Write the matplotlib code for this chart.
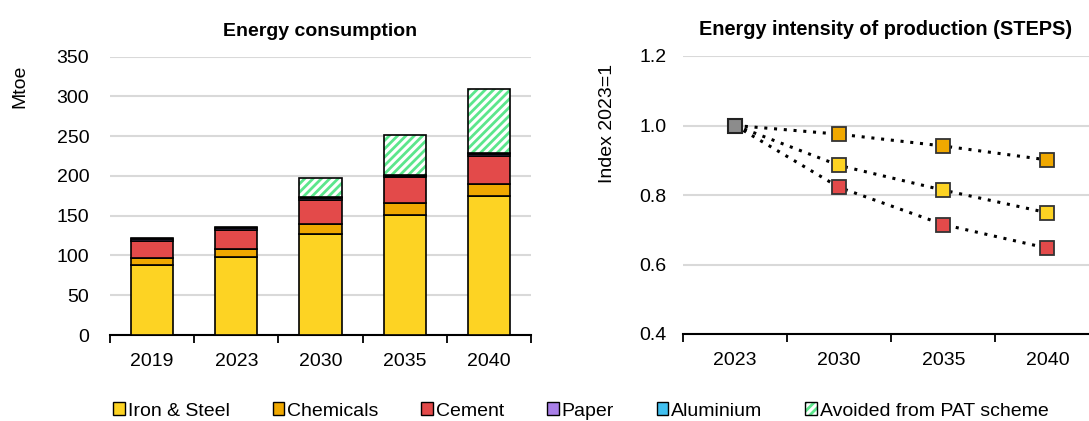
import matplotlib
matplotlib.use("Agg")
import matplotlib.pyplot as plt
import numpy as np
from matplotlib.patches import Patch
from matplotlib.legend_handler import HandlerTuple
from matplotlib.ticker import FixedLocator

plt.rcParams['font.family'] = ['Liberation Sans', 'DejaVu Sans']
plt.rcParams['hatch.linewidth'] = 2.0

# ---- Data ----
years_left = ['2019', '2023', '2030', '2035', '2040']
iron_steel = [88, 98, 126.5, 151, 175]
chemicals = [9, 10.5, 13, 14.5, 15]
cement = [21.5, 23.5, 30.5, 33, 35]
paper = [2.2, 2.0, 2.0, 1.8, 2.0]
aluminium = [1.8, 1.3, 1.3, 1.2, 1.2]
avoided = [0, 0, 24, 50, 80.5]

years_right = ['2023', '2030', '2035', '2040']
idx_chemicals = [1.0, 0.975, 0.941, 0.901]
idx_iron = [1.0, 0.885, 0.814, 0.749]
idx_cement = [1.0, 0.822, 0.715, 0.647]

c_iron = '#FDD323'
c_chem = '#F0A800'
c_cem = '#E34A4A'
c_paper = '#A97FE8'
c_alu = '#41C0F0'
c_avoid = '#5CE68C'
c_base = '#8C8C8C'
grid_c = '#D9D9D9'

FS = 14

fig = plt.figure(figsize=(10.89, 4.21), dpi=100)
W, H = 1089, 421

def ax_rect(x0, y0, x1, y1):
    return [x0 / W, 1 - y1 / H, (x1 - x0) / W, (y1 - y0) / H]

# ---- Left chart ----
ax1 = fig.add_axes(ax_rect(110, 56.5, 531, 335))
x = np.arange(len(years_left))
bw = 0.5
bottom = np.zeros(len(x))
for vals, col in [(iron_steel, c_iron), (chemicals, c_chem), (cement, c_cem),
                  (paper, c_paper), (aluminium, c_alu)]:
    ax1.bar(x, vals, bw, bottom=bottom, color=col, edgecolor='black', linewidth=1.2, zorder=3)
    bottom += np.array(vals)
av = np.array(avoided)
mask = av > 0
ax1.bar(x[mask], av[mask], bw, bottom=bottom[mask], color='white', edgecolor=c_avoid,
        hatch='////', linewidth=0, zorder=3)
ax1.bar(x[mask], av[mask], bw, bottom=bottom[mask], fill=False, edgecolor='black',
        linewidth=1.2, zorder=4)

ax1.set_xlim(-0.5, 4.5)
ax1.set_ylim(0, 350)
ax1.set_yticks(np.arange(0, 351, 50))
ax1.yaxis.grid(True, color=grid_c, linewidth=1.5, zorder=0)
ax1.set_axisbelow(True)
ax1.set_xticks(x)
ax1.set_xticklabels(years_left)
ax1.xaxis.set_minor_locator(FixedLocator(np.arange(-0.5, 4.6, 1)))
ax1.tick_params(axis='x', which='major', length=0, labelsize=FS, pad=13)
ax1.tick_params(axis='x', which='minor', length=6, width=1.3, direction='out')
ax1.tick_params(axis='y', length=0, labelsize=FS, pad=15)
for s in ['top', 'right', 'left']:
    ax1.spines[s].set_visible(False)
ax1.spines['bottom'].set_linewidth(1.5)
ax1.set_title('Energy consumption', fontsize=FS, fontweight='bold', pad=15)
fig.text(20 / W, 1 - 86 / H, 'Mtoe', rotation=90, ha='center', va='center', fontsize=FS)

# ---- Right chart ----
ax2 = fig.add_axes(ax_rect(683, 56, 1089, 334))
xr = np.arange(len(years_right))
for vals, col in [(idx_chemicals, c_chem), (idx_iron, c_iron), (idx_cement, c_cem)]:
    ax2.plot(xr, vals, linestyle=(0, (1, 2.2)), color='black', linewidth=2.2, zorder=3)
    ax2.plot(xr[1:], vals[1:], linestyle='none', marker='s', markersize=10.5,
             markerfacecolor=col, markeredgecolor='#333333', markeredgewidth=1.3, zorder=4)
ax2.plot([0], [1.0], linestyle='none', marker='s', markersize=10.5,
         markerfacecolor=c_base, markeredgecolor='#222222', markeredgewidth=1.5, zorder=5)
ax2.set_xlim(-0.5, 3.4)
ax2.set_ylim(0.4, 1.2)
ax2.set_yticks([0.4, 0.6, 0.8, 1.0, 1.2])
ax2.set_yticklabels(['0.4', '0.6', '0.8', '1.0', '1.2'])
ax2.yaxis.grid(True, color=grid_c, linewidth=1.5, zorder=0)
ax2.set_axisbelow(True)
ax2.set_xticks(xr)
ax2.set_xticklabels(years_right)
ax2.xaxis.set_minor_locator(FixedLocator(np.arange(-0.5, 3.6, 1)))
ax2.tick_params(axis='x', which='major', length=0, labelsize=FS, pad=13)
ax2.tick_params(axis='x', which='minor', length=6, width=1.3, direction='out')
ax2.tick_params(axis='y', length=0, labelsize=FS, pad=12)
for s in ['top', 'right', 'left']:
    ax2.spines[s].set_visible(False)
ax2.spines['bottom'].set_linewidth(1.5)
ax2.set_title('Energy intensity of production (STEPS)', fontsize=14.3, fontweight='bold', pad=15)
fig.text(607 / W, 1 - 123 / H, 'Index 2023=1', rotation=90, ha='center', va='center', fontsize=FS)

# ---- Legend ----
h_avoid = (Patch(facecolor='white', edgecolor=c_avoid, hatch='////', linewidth=0),
           Patch(facecolor='none', edgecolor='black', linewidth=1.0))
handles = [
    Patch(facecolor=c_iron, edgecolor='black', label='Iron & Steel'),
    Patch(facecolor=c_chem, edgecolor='black', label='Chemicals'),
    Patch(facecolor=c_cem, edgecolor='black', label='Cement'),
    Patch(facecolor=c_paper, edgecolor='black', label='Paper'),
    Patch(facecolor=c_alu, edgecolor='black', label='Aluminium'),
    h_avoid,
]
labels = ['Iron & Steel', 'Chemicals', 'Cement', 'Paper', 'Aluminium', 'Avoided from PAT scheme']
leg = fig.legend(handles=handles, labels=labels, loc='center',
                 bbox_to_anchor=(581 / W, 1 - 411 / H),
                 ncol=6, frameon=False, fontsize=FS, handlelength=0.6, handleheight=0.6,
                 handletextpad=0.15, columnspacing=2.2,
                 handler_map={tuple: HandlerTuple(ndivide=1, pad=0)})

fig.savefig('out.png', dpi=100)
